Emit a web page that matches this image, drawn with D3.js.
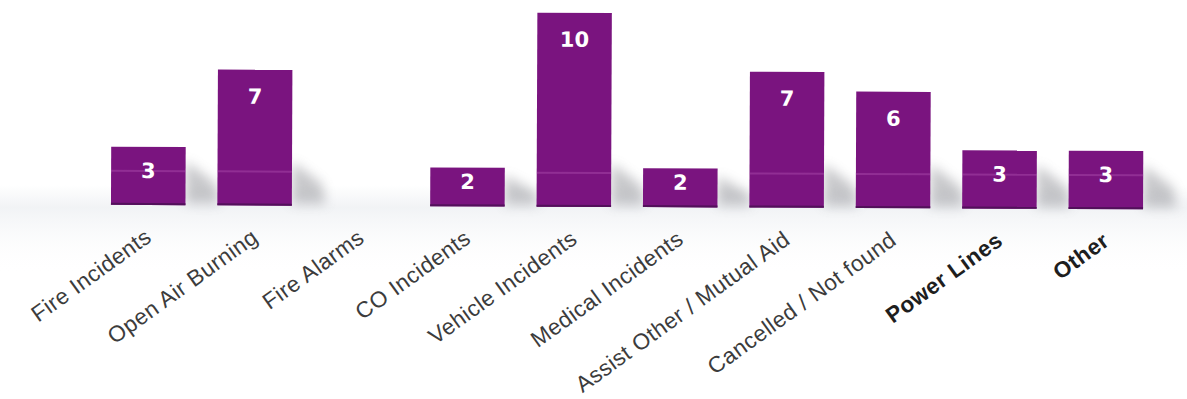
<!DOCTYPE html>
<html>
<head>
<meta charset="utf-8">
<script src="https://cdn.jsdelivr.net/npm/d3@7"></script>
<style>
  html, body { margin: 0; padding: 0; background: #ffffff; }
  svg { display: block; }
</style>
</head>
<body>
<svg id="chart" width="1187" height="399"></svg>
<script>
// Incident counts by category
const categories = [
  "Fire Incidents", "Open Air Burning", "Fire Alarms", "CO Incidents",
  "Vehicle Incidents", "Medical Incidents", "Assist Other / Mutual Aid",
  "Cancelled / Not found", "Power Lines", "Other"
];
const counts = [3, 7, 0, 2, 10, 2, 7, 6, 3, 3];
const boldLabels = ["Power Lines", "Other"];

const W = 1187, H = 399;
const baseY = 207;
const svg = d3.select("#chart");
const defs = svg.append("defs");

// soft floor haze under the bars
const floor = defs.append("linearGradient").attr("id", "floor")
  .attr("x1", 0).attr("y1", 0).attr("x2", 0).attr("y2", 1);
floor.append("stop").attr("offset", "0%").attr("stop-color", "#eef0f3").attr("stop-opacity", 0);
floor.append("stop").attr("offset", "25%").attr("stop-color", "#eef0f3").attr("stop-opacity", 0.8);
floor.append("stop").attr("offset", "100%").attr("stop-color", "#ffffff").attr("stop-opacity", 0);

defs.append("filter").attr("id", "soft")
  .attr("x", "-50%").attr("y", "-50%").attr("width", "200%").attr("height", "200%")
  .append("feGaussianBlur").attr("stdDeviation", 6);

svg.append("rect").attr("x", 0).attr("y", 185).attr("width", W).attr("height", 90)
  .attr("fill", "url(#floor)");

const x = d3.scaleBand().domain(categories).range([95, 1159]).paddingInner(0.3).paddingOuter(0.15);
const y = d3.scaleLinear().domain([0, 10]).range([baseY, 13]);

const g = svg.append("g").attr("transform", `rotate(0.24, 620, ${baseY})`);

const data = categories.map((c, i) => ({ cat: c, v: counts[i] }));
const shown = data.filter(d => d.v > 0);

// cast shadows to the right of each bar
g.append("g").selectAll("path").data(shown).join("path")
  .attr("d", d => {
    const x1 = x(d.cat) + x.bandwidth();
    const h = Math.min(baseY - y(d.v), 55) * 0.8;
    return `M${x1},${baseY - 2} L${x1},${baseY - h} L${x1 + 30},${baseY - h * 0.5} L${x1 + 34},${baseY - 2} Z`;
  })
  .attr("fill", "#7a7c82")
  .attr("opacity", 0.42)
  .attr("filter", "url(#soft)");

// bars
const bars = g.append("g");
bars.selectAll("rect.bar").data(shown).join("rect")
  .attr("class", "bar")
  .attr("x", d => x(d.cat))
  .attr("y", d => y(d.v))
  .attr("width", x.bandwidth())
  .attr("height", d => baseY - y(d.v))
  .attr("fill", "#7a147f");

// dark bottom edge
bars.selectAll("rect.edge").data(shown).join("rect")
  .attr("class", "edge")
  .attr("x", d => x(d.cat))
  .attr("y", baseY - 2)
  .attr("width", x.bandwidth())
  .attr("height", 2)
  .attr("fill", "#52105a");

// faint highlight line across the taller bars
bars.selectAll("rect.shine").data(shown.filter(d => y(d.v) < 160)).join("rect")
  .attr("class", "shine")
  .attr("x", d => x(d.cat))
  .attr("y", 172)
  .attr("width", x.bandwidth())
  .attr("height", 2)
  .attr("fill", "#c86cc6")
  .attr("opacity", 0.3);

// value labels
g.append("g").selectAll("text").data(shown).join("text")
  .attr("x", d => x(d.cat) + x.bandwidth() / 2)
  .attr("y", d => y(d.v) + Math.min(27, (baseY - y(d.v)) / 2 - 5))
  .attr("text-anchor", "middle")
  .attr("dominant-baseline", "central")
  .attr("font-family", "'DejaVu Sans', Verdana, sans-serif")
  .attr("font-weight", "bold")
  .attr("font-size", 21)
  .attr("fill", "#ffffff")
  .text(d => d.v);

// rotated category labels
g.append("g").selectAll("text").data(data).join("text")
  .attr("transform", d => `translate(${x(d.cat) + x.bandwidth() / 2 + 5}, ${baseY + 35}) rotate(-36)`)
  .attr("text-anchor", "end")
  .attr("font-family", "'Liberation Sans', Arial, sans-serif")
  .attr("font-size", 22.5)
  .attr("letter-spacing", "0.45px")
  .attr("font-weight", d => boldLabels.includes(d.cat) ? "bold" : "normal")
  .attr("fill", d => boldLabels.includes(d.cat) ? "#1e1e1e" : "#3c3c3c")
  .text(d => d.cat);
</script>
</body>
</html>
